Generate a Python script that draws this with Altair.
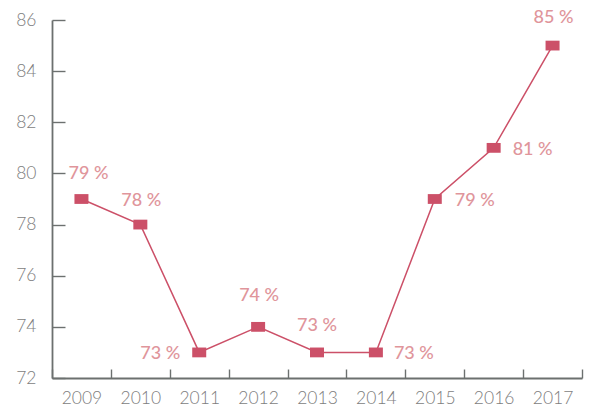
import altair as alt
import pandas as pd

years = [2009, 2010, 2011, 2012, 2013, 2014, 2015, 2016, 2017]
values = [79, 78, 73, 74, 73, 73, 79, 81, 85]
y_ticks = [72, 74, 76, 78, 80, 82, 84, 86]

df = pd.DataFrame({"year": years, "value": values})

LINE = "#cc5068"
LABEL = "#e0959b"
AXIS = "#6c706f"
TICKLAB = "#7d7d7d"
FONT = "Lato"

W, H = 530, 358
xscale = alt.Scale(domain=[2008.5, 2017.5], nice=False, zero=False)
yscale = alt.Scale(domain=[72, 86], nice=False, zero=False)
boundaries = [y - 0.5 for y in years] + [years[-1] + 0.5]

base = alt.Chart(df)

line = base.mark_line(color=LINE, strokeWidth=1.5).encode(
    x=alt.X("year:Q", scale=xscale, title=None,
            axis=alt.Axis(orient="bottom", values=years, format="d", ticks=False,
                          tickSize=0, labelPadding=11, grid=False, domainColor=AXIS,
                          domainWidth=1.8, labelColor=TICKLAB, labelFont=FONT,
                          labelFontSize=17.5, labelFontWeight=300, labelFlush=False)),
    y=alt.Y("value:Q", scale=yscale, title=None,
            axis=alt.Axis(orient="left", values=y_ticks, ticks=False, tickSize=0,
                          labelPadding=16, grid=False, domainColor=AXIS, domainWidth=1.8,
                          labelColor=TICKLAB, labelFont=FONT, labelFontSize=17.5,
                          labelFontWeight=300, labelFlush=False)),
)

points = base.mark_point(
    shape="M-1,-0.7H1V0.7H-1Z", size=196, filled=True, opacity=1, color=LINE
).encode(
    x=alt.X("year:Q", scale=xscale, title=None,
            axis=alt.Axis(orient="top", offset=-H, values=boundaries, labels=False,
                          domain=False, tickSize=9, tickColor=AXIS, tickWidth=1.4,
                          grid=False)),
    y=alt.Y("value:Q", scale=yscale, title=None,
            axis=alt.Axis(orient="right", offset=-W, values=y_ticks, labels=False,
                          domain=False, tickSize=13, tickColor=AXIS, tickWidth=1.4,
                          grid=False)),
)

placement = {
    2009: ("center", 7, -25), 2010: ("center", 1, -24), 2011: ("right", -19, 2),
    2012: ("center", 1, -31), 2013: ("center", 0, -26), 2014: ("left", 18, 2),
    2015: ("left", 20, 2), 2016: ("left", 19, 2), 2017: ("center", 1, -28),
}

texts = []
for yr, (al, dx, dy) in placement.items():
    t = base.transform_filter(alt.datum.year == yr).transform_calculate(
        label="format(datum.value, 'd') + ' %'"
    ).mark_text(
        align=al, dx=dx, dy=dy, baseline="middle", font=FONT, fontSize=18,
        fontWeight=500, color=LABEL
    ).encode(
        x=alt.X("year:Q", scale=xscale, axis=None),
        y=alt.Y("value:Q", scale=yscale, axis=None),
        text="label:N",
    )
    texts.append(t)

chart = alt.layer(line, points, *texts).resolve_axis(
    x="independent", y="independent"
).properties(
    width=W, height=H,
    autosize=alt.AutoSizeParams(type="none"),
    padding={"left": 52, "top": 20, "right": 11, "bottom": 32},
).configure_view(stroke=None)

chart.save("out.html", embed_options={"renderer": "svg", "actions": False})
